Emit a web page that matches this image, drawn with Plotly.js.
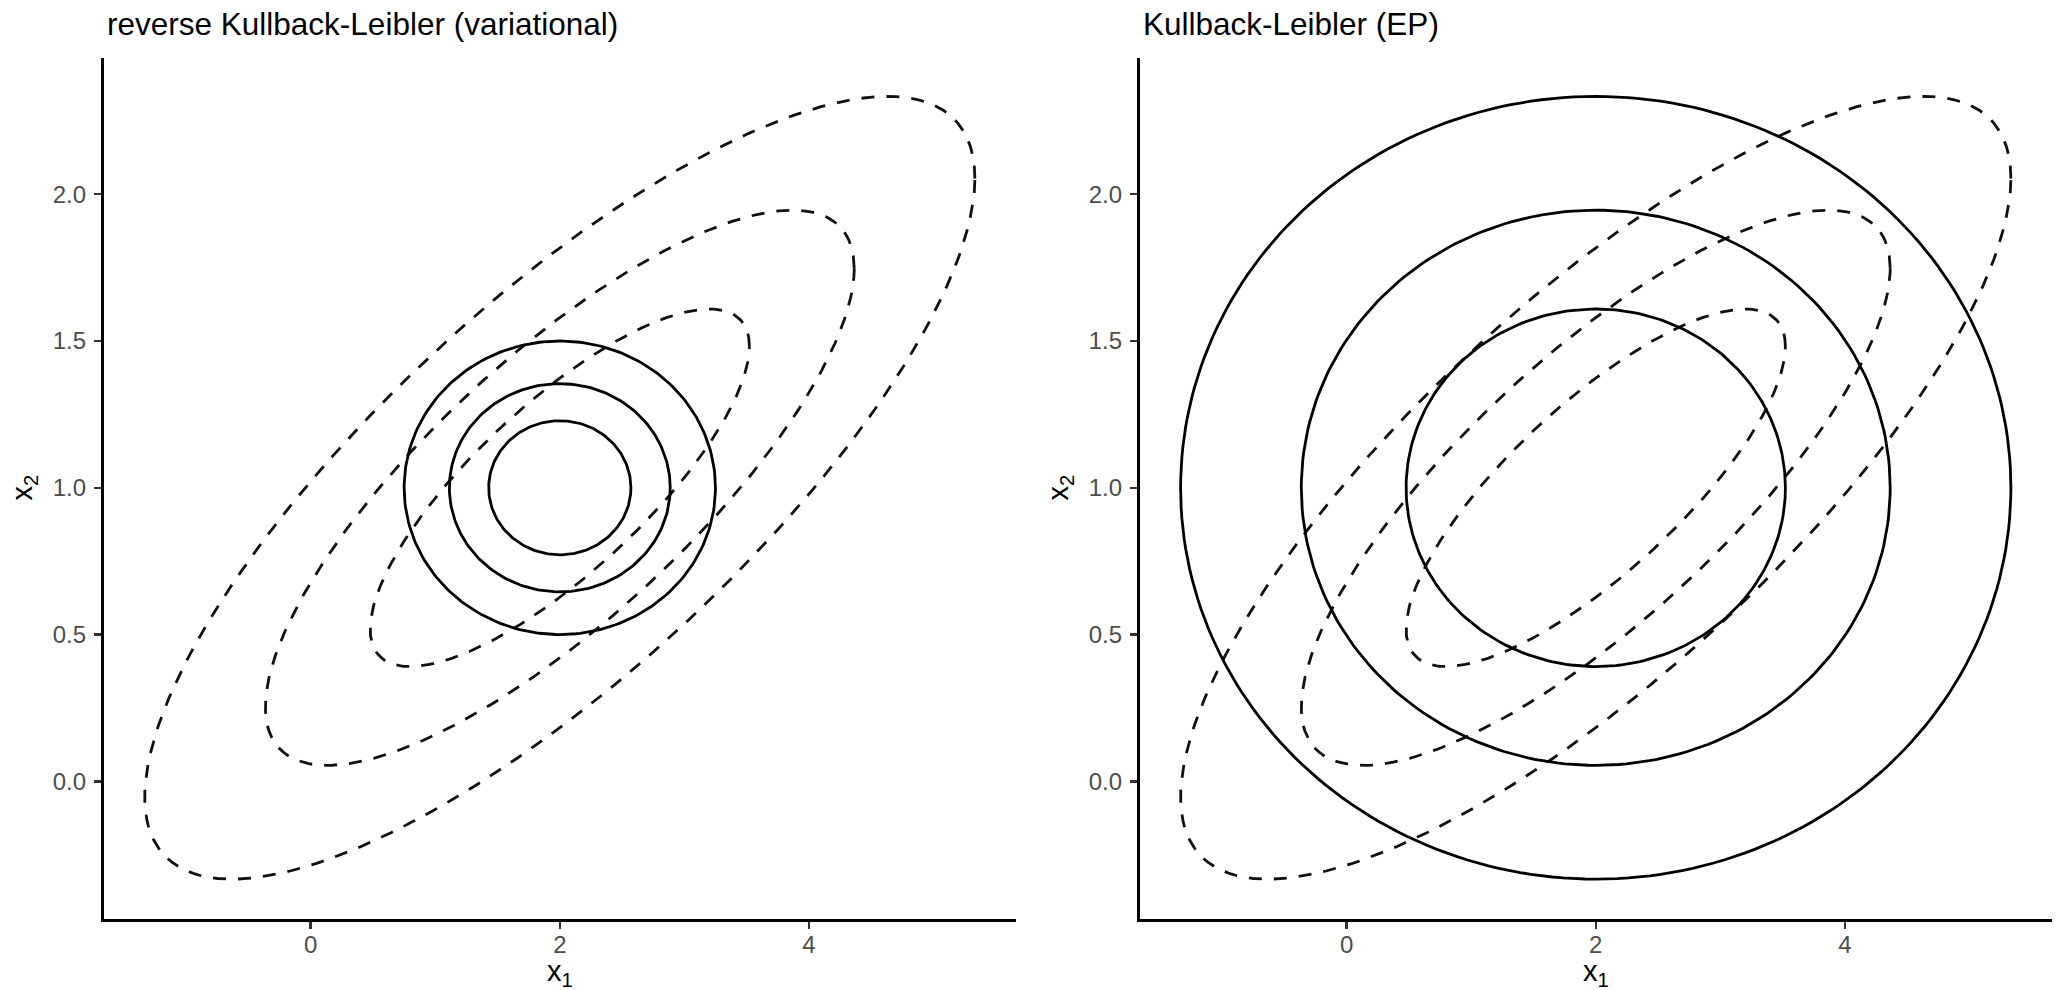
<!DOCTYPE html>
<html>
<head>
<meta charset="utf-8">
<script src="https://cdn.plot.ly/plotly-3.0.1.min.js"></script>
<style>html,body{margin:0;padding:0;background:#fff;}#chart{width:2056px;height:990px;}</style>
</head>
<body>
<div id="chart"></div>
<script>
// ---- data ----
const center = [2, 1];                 // mean of the target Gaussian
const truthSd = [1.5, 0.6];            // marginal sds of the target p(x)
const truthRho = 0.79;                 // correlation of the target p(x)
const variationalSd = [0.5625, 0.225]; // sds of q(x), reverse KL (factorised)
const epSd = [1.5, 0.6];               // sds of q(x), KL (EP, moment matched)
const contourRadii = [2.222, 1.576, 1.015]; // Mahalanobis radii of the drawn contours
const panelTitles = ["reverse Kullback-Leibler (variational)", "Kullback-Leibler (EP)"];
const xTicks = [0, 2, 4];
const xTickLabels = ["0", "2", "4"];
const yTicks = [0, 0.5, 1, 1.5, 2];
const yTickLabels = ["0.0", "0.5", "1.0", "1.5", "2.0"];
const xTitle = "x<sub>1</sub>";
const yTitle = "x<sub>2</sub>";

// ---- contour of a bivariate Gaussian at Mahalanobis radius r ----
function contour(mu, sd, rho, r) {
  const n = 240, xs = [], ys = [];
  const c = Math.sqrt(1 - rho * rho);
  for (let i = 0; i <= n; i++) {
    const t = 2 * Math.PI * i / n;
    const u = Math.cos(t), v = Math.sin(t);
    xs.push(mu[0] + r * sd[0] * u);
    ys.push(mu[1] + r * sd[1] * (rho * u + c * v));
  }
  return {x: xs, y: ys};
}

const traces = [];
const panels = [
  {xa: "x", ya: "y", qSd: variationalSd},
  {xa: "x2", ya: "y2", qSd: epSd}
];
panels.forEach(p => {
  contourRadii.forEach(r => {
    const e = contour(center, truthSd, truthRho, r);
    traces.push({x: e.x, y: e.y, xaxis: p.xa, yaxis: p.ya, mode: "lines",
      line: {color: "#111", width: 2.8, dash: "13px,12px"}, hoverinfo: "skip", showlegend: false});
  });
  contourRadii.forEach(r => {
    const e = contour(center, p.qSd, 0, r);
    traces.push({x: e.x, y: e.y, xaxis: p.xa, yaxis: p.ya, mode: "lines",
      line: {color: "#000", width: 2.8}, hoverinfo: "skip", showlegend: false});
  });
});

const W = 2056, H = 990;
const font = "Liberation Sans, Arial, sans-serif";
const xRange = [-1.663, 5.663];
const yRange = [-0.469, 2.464];
function xaxisDef(domain) {
  return {domain: domain, range: xRange, showgrid: false, zeroline: false,
    showline: true, linecolor: "#000", linewidth: 2.7, mirror: false,
    ticks: "outside", ticklen: 7, tickwidth: 2.5, tickcolor: "#333",
    ticklabelstandoff: -5,
    tickvals: xTicks, ticktext: xTickLabels,
    tickfont: {family: font, size: 24, color: "#4D4D4D"}, fixedrange: true};
}
function yaxisDef(anchor) {
  return {domain: [1 - 919 / H, 1 - 58 / H], range: yRange, anchor: anchor, showgrid: false, zeroline: false,
    showline: true, linecolor: "#000", linewidth: 2.7,
    ticks: "outside", ticklen: 7, tickwidth: 2.5, tickcolor: "#333",
    ticklabelstandoff: 3,
    tickvals: yTicks, ticktext: yTickLabels,
    tickfont: {family: font, size: 24, color: "#4D4D4D"}, fixedrange: true};
}
const xd1 = [103.6 / W, 1016 / W];
const xd2 = [1139.5 / W, 2052 / W];

const ann = [];
[xd1, xd2].forEach((d, i) => {
  ann.push({text: panelTitles[i], xref: "paper", yref: "paper", x: d[0] + 1 / W, y: 1 - 24 / H,
    xanchor: "left", yanchor: "middle", showarrow: false, font: {family: font, size: 31.5, color: "#000"}});
  ann.push({text: xTitle, xref: "paper", yref: "paper", x: (d[0] + d[1]) / 2, y: 1 - 973 / H,
    xanchor: "center", yanchor: "middle", borderpad: 0, showarrow: false, font: {family: font, size: 29, color: "#000"}});
  ann.push({text: yTitle, xref: "paper", yref: "paper", x: (d[0] * W - 80) / W, y: 1 - 488 / H,
    xanchor: "center", yanchor: "middle", textangle: -90, showarrow: false, font: {family: font, size: 29, color: "#000"}});
});

const layout = {
  width: W, height: H,
  margin: {l: 0, r: 0, t: 0, b: 0},
  paper_bgcolor: "#fff", plot_bgcolor: "#fff",
  xaxis: Object.assign(xaxisDef(xd1), {anchor: "y"}),
  yaxis: yaxisDef("x"),
  xaxis2: Object.assign(xaxisDef(xd2), {anchor: "y2"}),
  yaxis2: yaxisDef("x2"),
  annotations: ann,
  showlegend: false
};
Plotly.newPlot("chart", traces, layout, {displayModeBar: false, staticPlot: true});
</script>
</body>
</html>
